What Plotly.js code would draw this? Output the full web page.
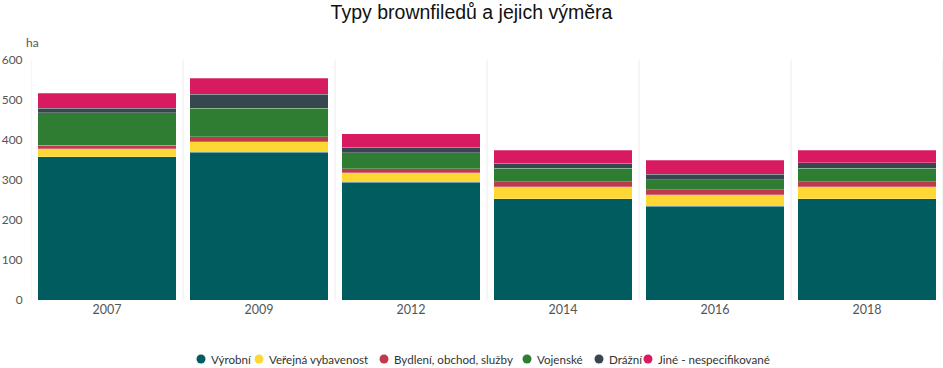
<!DOCTYPE html>
<html>
<head>
<meta charset="utf-8">
<script src="https://cdn.plot.ly/plotly-3.0.1.min.js"></script>
<style>html,body{margin:0;padding:0;background:#fff}#chart{width:943px;height:368px}</style>
</head>
<body>
<div id="chart"></div>
<script>
const years = ["2007", "2009", "2012", "2014", "2016", "2018"];
const seriesNames = ["Výrobní", "Veřejná vybavenost", "Bydlení, obchod, služby", "Vojenské", "Drážní", "Jiné - nespecifikované"];
const vyrobni = [358, 369, 295, 253, 235, 253];
const verejna = [20, 27, 23, 30, 28, 30];
const bydleni = [9, 12, 10, 13, 13, 13];
const vojenske = [81, 71, 40, 33, 25, 33];
const drazni = [11, 35, 14, 13, 14, 14];
const jine = [38, 40, 34, 33, 35, 32];
const yTicks = [0, 100, 200, 300, 400, 500, 600];

const colors = ["#005c5f", "#fdd835", "#c0394b", "#2e7d32", "#37474f", "#d81b60"];
const values = [vyrobni, verejna, bydleni, vojenske, drazni, jine];
// legend circle centres (px from left of the page)
const legendX = [201, 259, 384, 527, 599, 648];

const W = 943, H = 368, L = 31, R = 0, T = 60, B = 68;
const pw = W - L - R, ph = H - T - B;
const px2x = p => (p - L) / pw;
const px2y = p => (H - B - p) / ph;

const traces = values.map((v, i) => ({
  type: "bar", x: years, y: v, name: seriesNames[i],
  marker: {color: colors[i], line: {color: "rgba(255,255,255,0.25)", width: 1}},
  showlegend: false, hoverinfo: "x+y+name"
}));

const shapes = [];
for (let i = 0; i <= years.length; i++) {
  shapes.push({type: "line", xref: "x", yref: "paper", x0: i - 0.5, x1: i - 0.5, y0: 0, y1: 1,
    line: {color: "#ececec", width: 1}, layer: "below"});
}
const annotations = [{text: "ha", xref: "paper", yref: "paper", x: px2x(24), y: px2y(42), xanchor: "left", yanchor: "middle",
  showarrow: false, font: {size: 12, color: "#555"}}];

// legend: circle + label per series
const ly = 359;
seriesNames.forEach((n, i) => {
  shapes.push({type: "circle", xref: "paper", yref: "paper",
    x0: px2x(legendX[i] - 4.5), x1: px2x(legendX[i] + 4.5), y0: px2y(ly + 4.5), y1: px2y(ly - 4.5),
    fillcolor: colors[i], line: {width: 0}});
  annotations.push({text: n, xref: "paper", yref: "paper", x: px2x(legendX[i] + 8), y: px2y(ly),
    xanchor: "left", yanchor: "middle", showarrow: false, font: {size: 11.6, color: "#333"}});
});

const layout = {
  width: W, height: H,
  margin: {l: L, r: R, t: T, b: B, autoexpand: false},
  paper_bgcolor: "#fff", plot_bgcolor: "#fff",
  font: {family: "Lato, sans-serif", color: "#555", size: 12},
  title: {text: "Typy brownfiledů a jejich výměra", font: {family: "Liberation Sans, Arial, sans-serif", size: 19.5, color: "#111"},
    x: 0.5, xref: "container", y: 0.968, yref: "container", yanchor: "middle"},
  barmode: "stack", bargap: 0.09, showlegend: false,
  xaxis: {type: "category", showgrid: false, zeroline: false, showline: false, ticks: "",
    tickfont: {size: 12.5, color: "#555"}, range: [-0.5, 5.5]},
  yaxis: {range: [0, 600], tickvals: yTicks, showgrid: false, zeroline: false, showline: false,
    tickfont: {size: 12, color: "#555"}, ticks: "outside", ticklen: 5, tickcolor: "rgba(0,0,0,0)"},
  shapes: shapes,
  annotations: annotations
};

Plotly.newPlot("chart", traces, layout, {displayModeBar: false, staticPlot: true});
</script>
</body>
</html>
